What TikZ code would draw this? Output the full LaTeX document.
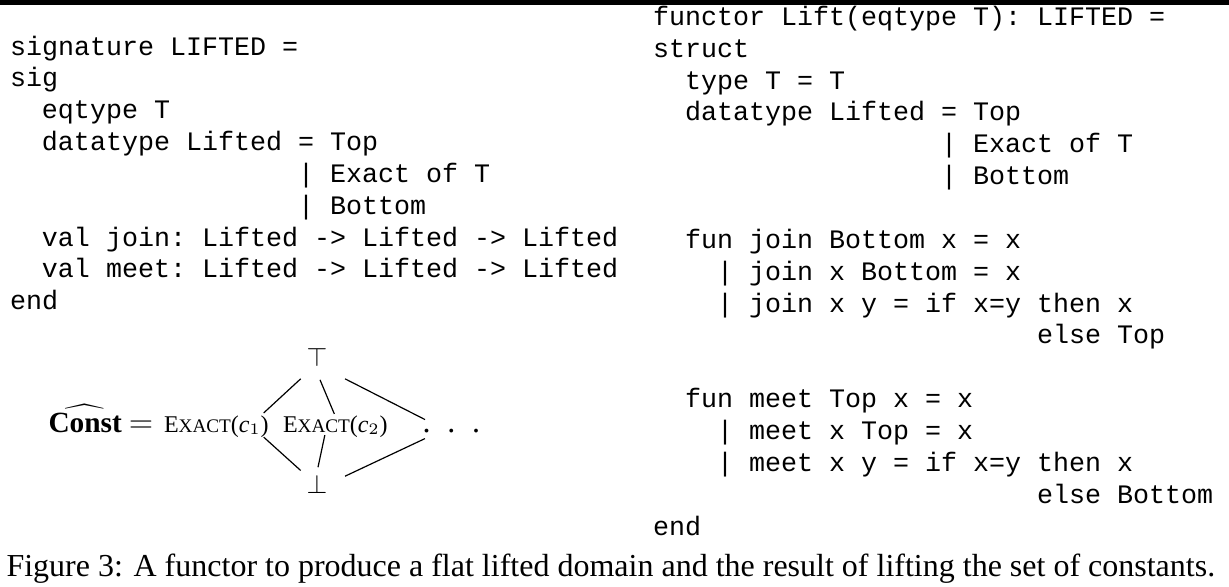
\documentclass[tikz,border=0pt]{standalone}
\usepackage{fontspec}
\setmainfont{Liberation Serif}
\setmonofont{Liberation Mono}
\usetikzlibrary{calc}
\tikzset{
  codeline/.style={anchor=base west, inner sep=0pt, outer sep=0pt,
    font=\ttfamily\fontsize{10}{12}\selectfont\frenchspacing},
  latt/.style={inner sep=0pt, outer sep=0pt, font=\fontsize{9}{9}\selectfont},
  edge/.style={line width=0.45pt},
}
\newcommand{\exactlbl}[1]{E{\fontsize{7.2}{7}\selectfont XACT}(\textit{c}$_{#1}$)}
\begin{document}
\begin{tikzpicture}[x=0.375pt,y=-0.375pt]
\useasboundingbox (0,0) rectangle (1229,586);
\fill (0,0) rectangle (1229,4.5);
% left column: x = 10 + 16k, baseline = 55 + 31.85 i
\node[codeline] (l0) at (10,55.00) {signature LIFTED =};
\node[codeline] (l1) at (10,86.85) {sig};
\node[codeline] (l2) at (42,118.70) {eqtype T};
\node[codeline] (l3) at (42,150.55) {datatype Lifted = Top};
\node[codeline] (l4) at (298,182.40) {| Exact of T};
\node[codeline] (l5) at (298,214.25) {| Bottom};
\node[codeline] (l6) at (42,246.10) {val join: Lifted -> Lifted -> Lifted};
\node[codeline] (l7) at (42,277.95) {val meet: Lifted -> Lifted -> Lifted};
\node[codeline] (l8) at (10,309.80) {end};
% right column: x = 653 + 16k, baseline = 25.4 + 31.85 j
\node[codeline] (r0) at (653,25.40) {functor Lift(eqtype T): LIFTED =};
\node[codeline] (r1) at (653,57.25) {struct};
\node[codeline] (r2) at (685,89.10) {type T = T};
\node[codeline] (r3) at (685,120.95) {datatype Lifted = Top};
\node[codeline] (r4) at (941,152.80) {| Exact of T};
\node[codeline] (r5) at (941,184.65) {| Bottom};
\node[codeline] (r7) at (685,248.35) {fun join Bottom x = x};
\node[codeline] (r8) at (717,280.20) {| join x Bottom = x};
\node[codeline] (r9) at (717,312.05) {| join x y = if x=y then x};
\node[codeline] (r10) at (1037,343.90) {else Top};
\node[codeline] (r12) at (685,407.60) {fun meet Top x = x};
\node[codeline] (r13) at (717,439.45) {| meet x Top = x};
\node[codeline] (r14) at (717,471.30) {| meet x y = if x=y then x};
\node[codeline] (r15) at (1037,503.15) {else Bottom};
\node[codeline] (r16) at (653,535.00) {end};
% lattice
\node[anchor=base west, inner sep=0pt, font=\fontsize{11}{11}\selectfont] (const) at (48,432) {$\widehat{\hbox{\bfseries Const}}$};
\node[anchor=base, inner sep=0pt, font=\fontsize{12}{12}\selectfont] (eq) at (141,432) {$=$};
\node[latt, anchor=base west] (c1) at (164,432) {\exactlbl{1}};
\node[latt, anchor=base west] (c2) at (283,432) {\exactlbl{2}};
\node[anchor=base west, inner sep=0pt, font=\fontsize{12}{12}\selectfont] (dots) at (422,432) {.\hspace{6.3pt}.\hspace{6.3pt}.};
\node[inner sep=0pt, font=\fontsize{10}{10}\selectfont] (top) at (317,357) {$\top$};
\node[inner sep=0pt, font=\fontsize{10}{10}\selectfont] (bot) at (317,484) {$\bot$};
\draw[edge] ([shift={(-16.3,12)}]top.south) -- ([shift={(-5,-2.4)}]c1.north east);
\draw[edge] ([shift={(3,13)}]top.south) -- ([shift={(-1,-1.4)}]c2.north);
\draw[edge] ([shift={(28,12)}]top.south) -- ([shift={(3,-11)}]dots.west);
\draw[edge] ([shift={(-5,0)}]c1.south east) -- ([shift={(-16.3,-3.7)}]bot.north);
\draw[edge] ([shift={(-10.5,-2)}]c2.south) -- ([shift={(1,-7)}]bot.north);
\draw[edge] ([shift={(3,8)}]dots.west) -- ([shift={(28,2)}]bot.north);
% caption
\node[anchor=base west, inner sep=0pt, font=\fontsize{12}{14}\selectfont] (cap) at (6,576) {Figure 3: A functor to produce a flat lifted domain and the result of lifting the set of constants.};
\end{tikzpicture}
\end{document}
